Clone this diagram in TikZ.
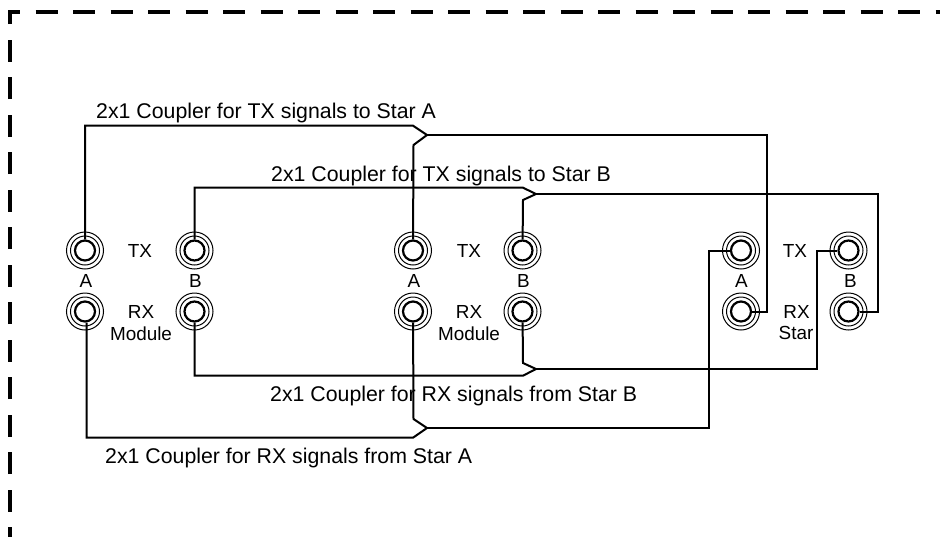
\documentclass[tikz,border=0pt]{standalone}
\usepackage{fontspec}
\setmainfont{Liberation Sans}
\begin{document}
\begin{tikzpicture}[
    x=1pt, y=-1pt,
    node distance=61pt,
    port/.style={circle, draw=black, line width=2.2pt, minimum size=20pt, inner sep=0pt},
    wire/.style={line width=2pt, line join=miter},
    ring/.style={line width=1pt},
    frame/.style={line width=3.3pt, dash pattern=on 22pt off 15.5pt},
    tag/.style={font=\fontsize{18.9}{21}\selectfont, inner sep=0pt, anchor=center},
    coupler/.style={font=\fontsize{21.3}{24}\selectfont, inner sep=0pt, anchor=base west}
]
\useasboundingbox (0,0) rectangle (940,536);
\clip (0,0) rectangle (940,536);

% Frame
\draw [frame] (10,549) -- (10,12) -- (950,12);

% Module side 1
\node (modTXa) [port] at (85,250.5) {};
\node (modRXa) [port, below of=modTXa] {};
\node (modTXb) [port, right of=modTXa, node distance=109.5pt] {};
\node (modRXb) [port, below of=modTXb] {};
% Module side 2
\node (midTXa) [port] at (413,250.5) {};
\node (midRXa) [port, below of=midTXa] {};
\node (midTXb) [port, right of=midTXa, node distance=109.5pt] {};
\node (midRXb) [port, below of=midTXb] {};
% Star side
\node (starTXa) [port] at (741,250.5) {};
\node (starRXa) [port, below of=starTXa] {};
\node (starTXb) [port, right of=starTXa, node distance=107.5pt] {};
\node (starRXb) [port, below of=starTXb] {};

\foreach \p in {modTXa,modRXa,modTXb,modRXb,midTXa,midRXa,midTXb,midRXb,starTXa,starRXa,starTXb,starRXb}
    \draw [ring] (\p) circle (14.5pt) (\p) circle (18.5pt);

% Labels
\node (tagTX1) [tag] at (140,250.5) {TX};
\node (tagA1) [tag] at (86,281) {A};
\node (tagB1) [tag] at (195.5,281) {B};
\node (tagRX1) [tag] at (141,311.5) {RX};
\node (tagMod1) [tag] at (141,334) {Module};
\node (tagTX2) [tag] at (469,250.5) {TX};
\node (tagA2) [tag] at (414,281) {A};
\node (tagB2) [tag] at (523.5,281) {B};
\node (tagRX2) [tag] at (469,311.5) {RX};
\node (tagMod2) [tag] at (469,334) {Module};
\node (tagTX3) [tag] at (795,250.5) {TX};
\node (tagA3) [tag] at (741.5,281) {A};
\node (tagB3) [tag] at (850.5,281) {B};
\node (tagRX3) [tag] at (796.5,311.5) {RX};
\node (tagStar) [tag] at (796,333) {Star};

\node (txStarA) [coupler] at (96,118) {2x1 Coupler for TX signals to Star A};
\node (txStarB) [coupler] at (271,181) {2x1 Coupler for TX signals to Star B};
\node (rxStarB) [coupler] at (270,401) {2x1 Coupler for RX signals from Star B};
\node (rxStarA) [coupler] at (105,463) {2x1 Coupler for RX signals from Star A};

% Coupler joints
\coordinate (jointTXa) at (427,135);
\coordinate (jointTXb) at (536,194);
\coordinate (jointRXb) at (536,369);
\coordinate (jointRXa) at (427,428);

% Wires
\draw [wire] (modTXa) |- (413,125.7) -- (jointTXa);
\draw [wire] (midTXa) -- (413.5,145) -- (jointTXa);
\draw [wire] (jointTXa) -| (767,250) |- (starRXa);

\draw [wire] (modTXb) |- (523,187.7) -- (jointTXb);
\draw [wire] (midTXb) -- (523,200) -- (jointTXb);
\draw [wire] (jointTXb) -| (877.7,250) |- (starRXb);

\draw [wire] (modRXb) |- (523,375.7) -- (jointRXb);
\draw [wire] (midRXb) -- (523,363) -- (jointRXb);
\draw [wire] (jointRXb) -| (816.7,300) |- (starTXb);

\draw [wire] ([xshift=1.7pt]modRXa.south) |- (413,437.7) -- (jointRXa);
\draw [wire] (midRXa) -- (413.5,419) -- (jointRXa);
\draw [wire] (jointRXa) -| (709,300) |- (starTXa);

\end{tikzpicture}
\end{document}
